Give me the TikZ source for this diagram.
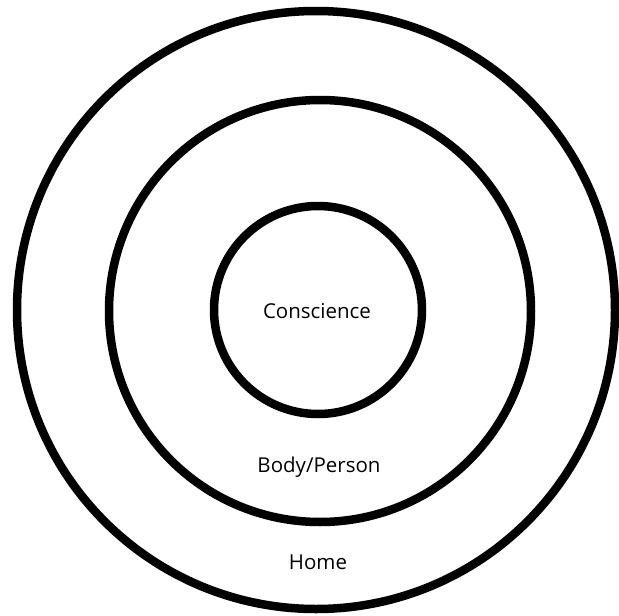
\documentclass[tikz,border=0pt]{standalone}
\usepackage{fontspec}
\setmainfont{Open Sans}
\begin{document}
\begin{tikzpicture}[x=1pt,y=-1pt,
  ring/.style={draw=black,line width=8.5pt,circle,inner sep=0pt},
  lbl/.style={font=\fontsize{20.5}{24}\selectfont,inner sep=0pt,anchor=center}]
\useasboundingbox (0,0) rectangle (619,616);
\node[ring,minimum size=598pt] (home) at (316,310) {};
\node[ring,minimum size=422pt] (body) at (320,311) {};
\node[ring,minimum size=208pt] (cons) at (318,310) {};
\node[lbl] (tc) at (317,311) {Conscience};
\node[lbl] (tb) at (319,467) {Body/Person};
\node[lbl] (th) at (318,562) {Home};
\end{tikzpicture}
\end{document}
